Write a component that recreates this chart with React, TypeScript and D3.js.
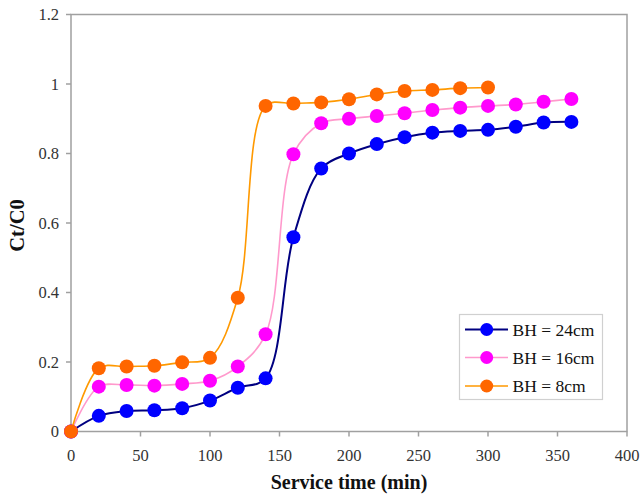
import React from "react";
import * as d3 from "d3";

const times = [0, 20, 40, 60, 80, 100, 120, 140, 160, 180, 200, 220, 240, 260, 280, 300, 320, 340, 360];
const bh24 = [0, 0.045, 0.059, 0.061, 0.067, 0.089, 0.126, 0.153, 0.559, 0.757, 0.80, 0.827, 0.847, 0.86, 0.865, 0.868, 0.877, 0.889, 0.891];
const bh16 = [0, 0.129, 0.134, 0.132, 0.137, 0.146, 0.187, 0.28, 0.798, 0.887, 0.90, 0.908, 0.916, 0.925, 0.932, 0.937, 0.941, 0.949, 0.957];
const bh8 = [0, 0.182, 0.187, 0.189, 0.199, 0.212, 0.385, 0.937, 0.944, 0.947, 0.956, 0.97, 0.98, 0.983, 0.988, 0.99];
const xTicks = [0, 50, 100, 150, 200, 250, 300, 350, 400];
const yTicks = [0, 0.2, 0.4, 0.6, 0.8, 1, 1.2];
const seriesNames = ["BH = 24cm", "BH = 16cm", "BH = 8cm"];

const series = [
  { name: seriesNames[0], values: bh24, line: "#000080", marker: "#0000FF", lw: 2 },
  { name: seriesNames[1], values: bh16, line: "#FF99CC", marker: "#FF00FF", lw: 1.6 },
  { name: seriesNames[2], values: bh8, line: "#FF9900", marker: "#FF6600", lw: 1.6 },
];

export default function App() {
  const W = 640, H = 494;
  const left = 71, right = 627, top = 14.5, bottom = 431.5;
  const x = d3.scaleLinear().domain([0, 400]).range([left, right]);
  const y = d3.scaleLinear().domain([0, 1.2]).range([bottom, top]);
  const line = d3
    .line<[number, number]>()
    .x((d) => x(d[0]))
    .y((d) => y(d[1]))
    .curve(d3.curveCatmullRom.alpha(0.5));
  const font = "'Liberation Serif', 'Times New Roman', serif";
  const axisColor = "#a0a0a0";
  const legX = 459.5, legY = 314.5, legW = 143, legH = 85;
  const legRows = [329.5, 357.5, 386];

  return (
    <svg width={W} height={H} style={{ position: "absolute", left: 0, top: 0 }} fontFamily={font}>
      <rect width={W} height={H} fill="#fff" />
      {/* plot frame */}
      <rect x={left} y={top} width={right - left} height={bottom - top} fill="none" stroke={axisColor} strokeWidth={1.5} />
      {/* x ticks */}
      {xTicks.map((t) => (
        <g key={"x" + t}>
          <line x1={x(t)} x2={x(t)} y1={bottom} y2={bottom + 5} stroke={axisColor} strokeWidth={1.5} />
          <text x={x(t)} y={460.5} textAnchor="middle" fontSize={16.5} fill="#333">
            {t}
          </text>
        </g>
      ))}
      {/* y ticks */}
      {yTicks.map((t) => (
        <g key={"y" + t}>
          <line x1={left - 5} x2={left} y1={y(t)} y2={y(t)} stroke={axisColor} strokeWidth={1.5} />
          <text x={59} y={y(t) + 5.5} textAnchor="end" fontSize={16.5} fill="#333">
            {d3.format("")(t)}
          </text>
        </g>
      ))}
      <text x={349} y={489} textAnchor="middle" fontSize={20} fontWeight="bold" fill="#111">
        Service time (min)
      </text>
      <text transform={`translate(24,225.5) rotate(-90)`} textAnchor="middle" fontSize={20.5} fontWeight="bold" fill="#111">
        Ct/C0
      </text>
      {/* series */}
      {series.map((s) => {
        const pts: [number, number][] = s.values.map((v, i) => [times[i], v]);
        return (
          <g key={s.name}>
            <path d={line(pts) || ""} fill="none" stroke={s.line} strokeWidth={s.lw} />
            {pts.map((p, i) => (
              <circle key={i} cx={x(p[0])} cy={y(p[1])} r={7} fill={s.marker} />
            ))}
          </g>
        );
      })}
      {/* legend */}
      <rect x={legX} y={legY} width={legW} height={legH} fill="#fff" stroke="#d0d0d0" strokeWidth={1.2} />
      {series.map((s, i) => (
        <g key={"leg" + i}>
          <line x1={465} x2={508} y1={legRows[i]} y2={legRows[i]} stroke={s.line} strokeWidth={s.lw} />
          <circle cx={486.7} cy={legRows[i]} r={6.5} fill={s.marker} />
          <text x={512.5} y={legRows[i] + 6} fontSize={17.5} fill="#111">
            {s.name}
          </text>
        </g>
      ))}
    </svg>
  );
}
